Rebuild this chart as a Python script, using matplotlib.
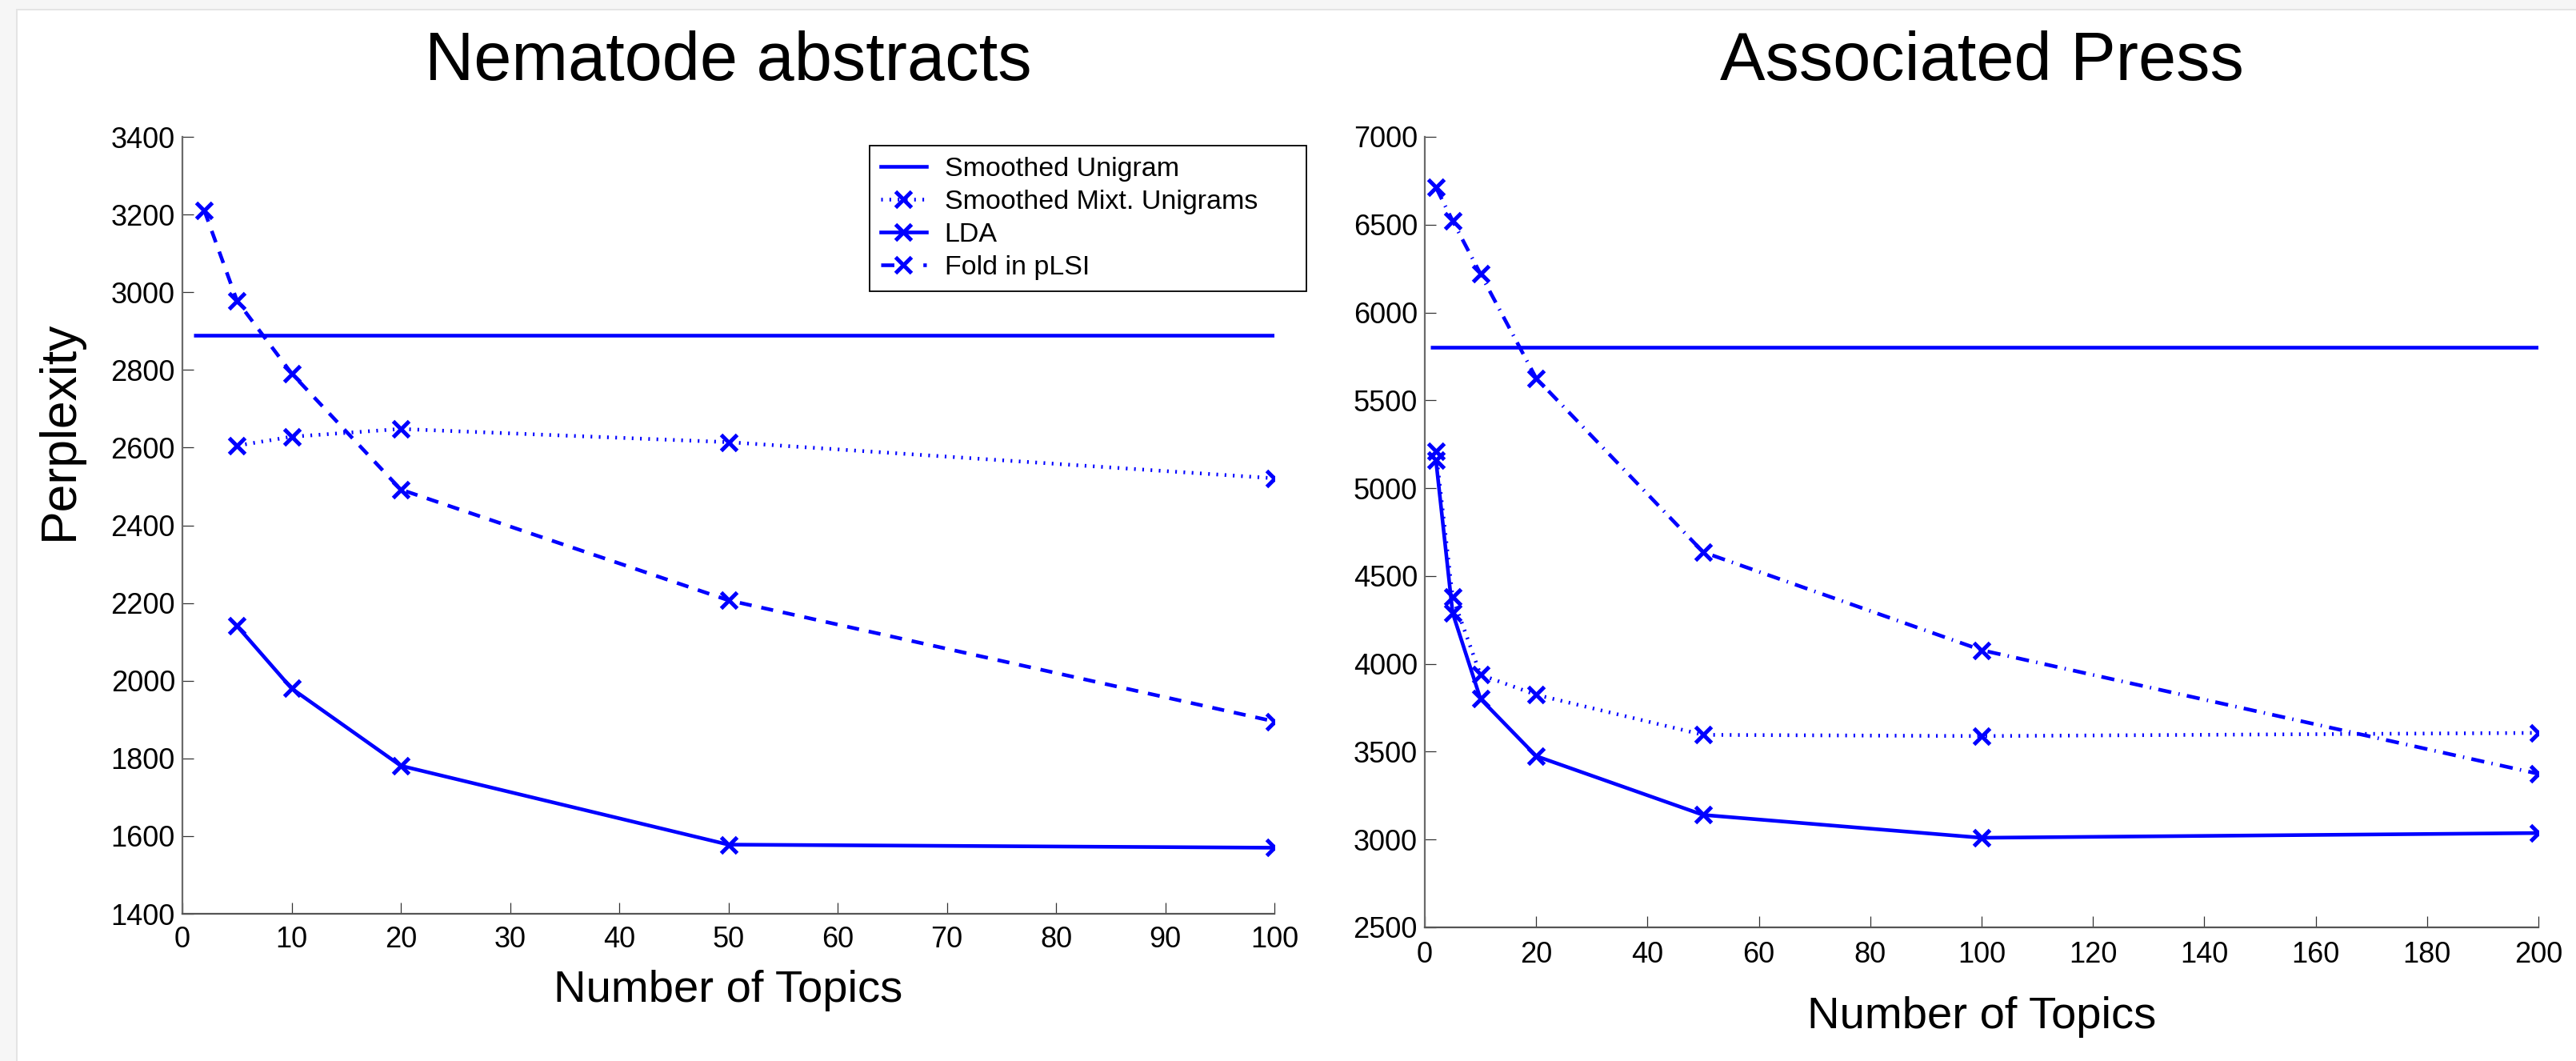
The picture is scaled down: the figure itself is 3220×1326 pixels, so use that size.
import matplotlib
matplotlib.use('Agg')
import matplotlib.pyplot as plt
from matplotlib.lines import Line2D
from matplotlib.patches import Rectangle

plt.rcParams['font.family'] = ['Liberation Sans', 'DejaVu Sans']

# ---------------- data ----------------
# Nematode abstracts
nem_unigram_x = [1, 100]
nem_unigram = [2890, 2890]
nem_mixt_topics = [5, 10, 20, 50, 100]
nem_mixt = [2605, 2628, 2648, 2614, 2521]
nem_lda_topics = [5, 10, 20, 50, 100]
nem_lda = [2141, 1980, 1781, 1578, 1570]
nem_plsi_topics = [2, 5, 10, 20, 50, 100]
nem_plsi = [3211, 2978, 2791, 2492, 2207, 1895]

# Associated Press
ap_unigram_x = [1, 200]
ap_unigram = [5800, 5800]
ap_topics = [2, 5, 10, 20, 50, 100, 200]
ap_mixt = [5210, 4380, 3938, 3824, 3596, 3589, 3607]
ap_lda = [5160, 4290, 3801, 3475, 3140, 3010, 3037]
ap_plsi = [6712, 6522, 6220, 5626, 4636, 4078, 3374]

nem_xticks = list(range(0, 101, 10))
nem_yticks = list(range(1400, 3401, 200))
ap_xticks = list(range(0, 201, 20))
ap_yticks = list(range(2500, 7001, 500))

labels = ['Smoothed Unigram', 'Smoothed Mixt. Unigrams', 'LDA', 'Fold in pLSI']

# ---------------- styling ----------------
W, H = 3220, 1326
BLUE = '#0000ff'
LW = 3.3
MS = 14
MEW = 3.6
DOT = (0.45, 1.8)
DASH = (3.3, 2.7)
DASHDOT = (3.6, 2.0, 0.35, 2.0)

fig = plt.figure(figsize=(W / 100, H / 100), dpi=100)
fig.patch.set_facecolor('#f6f6f6')
fig.patches.append(Rectangle((20 / W, 0), 1, 1 - 11 / H, transform=fig.transFigure,
                             facecolor='#e4e4e4', edgecolor='none', zorder=-11))
fig.patches.append(Rectangle((22 / W, 0), 1, 1 - 13 / H, transform=fig.transFigure,
                             facecolor='white', edgecolor='none', zorder=-10))


def px_axes(x0, y0, x1, y1):
    return fig.add_axes([x0 / W, 1 - y1 / H, (x1 - x0) / W, (y1 - y0) / H])


ax1 = px_axes(228, 171, 1593, 1142)
ax2 = px_axes(1781, 171, 3173, 1159)

for ax in (ax1, ax2):
    ax.set_facecolor('none')
    for s in ('top', 'right'):
        ax.spines[s].set_visible(False)
    ax.spines['left'].set_color('#6a6a6a')
    ax.spines['bottom'].set_color('#555555')
    ax.spines['left'].set_linewidth(1.6)
    ax.spines['bottom'].set_linewidth(1.6)
    ax.tick_params(direction='in', length=10, width=0.9, color='#333333',
                   labelsize=26, labelcolor='black')
    ax.tick_params(axis='y', pad=6.5)

# ---- left: Nematode ----
ax1.plot(nem_unigram_x, nem_unigram, color=BLUE, lw=LW, solid_capstyle='butt')
ax1.plot(nem_mixt_topics, nem_mixt, color=BLUE, lw=LW, dashes=DOT, marker='x',
         ms=MS, mew=MEW)
ax1.plot(nem_lda_topics, nem_lda, color=BLUE, lw=LW, marker='x', ms=MS, mew=MEW)
ax1.plot(nem_plsi_topics, nem_plsi, color=BLUE, lw=LW, dashes=DASH, marker='x',
         ms=MS, mew=MEW)
ax1.set_xlim(0, 100)
ax1.set_ylim(1400, 3400)
ax1.set_xticks(nem_xticks)
ax1.set_yticks(nem_yticks)
ax1.tick_params(axis='x', pad=11)
ax1.set_title('Nematode abstracts', fontsize=61, pad=51)
ax1.set_xlabel('Number of Topics', fontsize=40.5, labelpad=14)
ax1.set_ylabel('Perplexity', fontsize=45)
ax1.yaxis.set_label_coords((104 - 228) / 1365, 0.622)

handles = [
    Line2D([], [], color=BLUE, lw=LW),
    Line2D([], [], color=BLUE, lw=LW, dashes=DOT, marker='x', ms=MS, mew=MEW),
    Line2D([], [], color=BLUE, lw=LW, marker='x', ms=MS, mew=MEW),
    Line2D([], [], color=BLUE, lw=LW, dashes=(3.6, 7.9), marker='x', ms=MS, mew=MEW),
]
leg_labels = [labels[0], labels[1] + '     ', labels[2], labels[3]]
leg = ax1.legend(handles, leg_labels, loc='upper right',
                 bbox_to_anchor=(1633 / W, 1 - 182 / H), bbox_transform=fig.transFigure,
                 fontsize=24.5, frameon=True, fancybox=False, framealpha=1,
                 edgecolor='black', borderpad=0.4, borderaxespad=0,
                 handlelength=1.7, handletextpad=0.65, labelspacing=0.3)
leg.get_frame().set_linewidth(1.3)

# ---- right: AP ----
ax2.plot(ap_unigram_x, ap_unigram, color=BLUE, lw=LW, solid_capstyle='butt')
ax2.plot(ap_topics, ap_mixt, color=BLUE, lw=LW, dashes=DOT, marker='x', ms=MS, mew=MEW)
ax2.plot(ap_topics, ap_lda, color=BLUE, lw=LW, marker='x', ms=MS, mew=MEW)
ax2.plot(ap_topics, ap_plsi, color=BLUE, lw=LW, dashes=DASHDOT, marker='x',
         ms=MS, mew=MEW)
ax2.set_xlim(0, 200)
ax2.set_ylim(2500, 7000)
ax2.set_xticks(ap_xticks)
ax2.set_yticks(ap_yticks)
ax2.tick_params(axis='x', pad=12.5)
ax2.set_title('Associated Press', fontsize=61, pad=51)
ax2.set_xlabel('Number of Topics', fontsize=40.5, labelpad=24)

fig.savefig('out.png', dpi=100, facecolor=fig.get_facecolor())
